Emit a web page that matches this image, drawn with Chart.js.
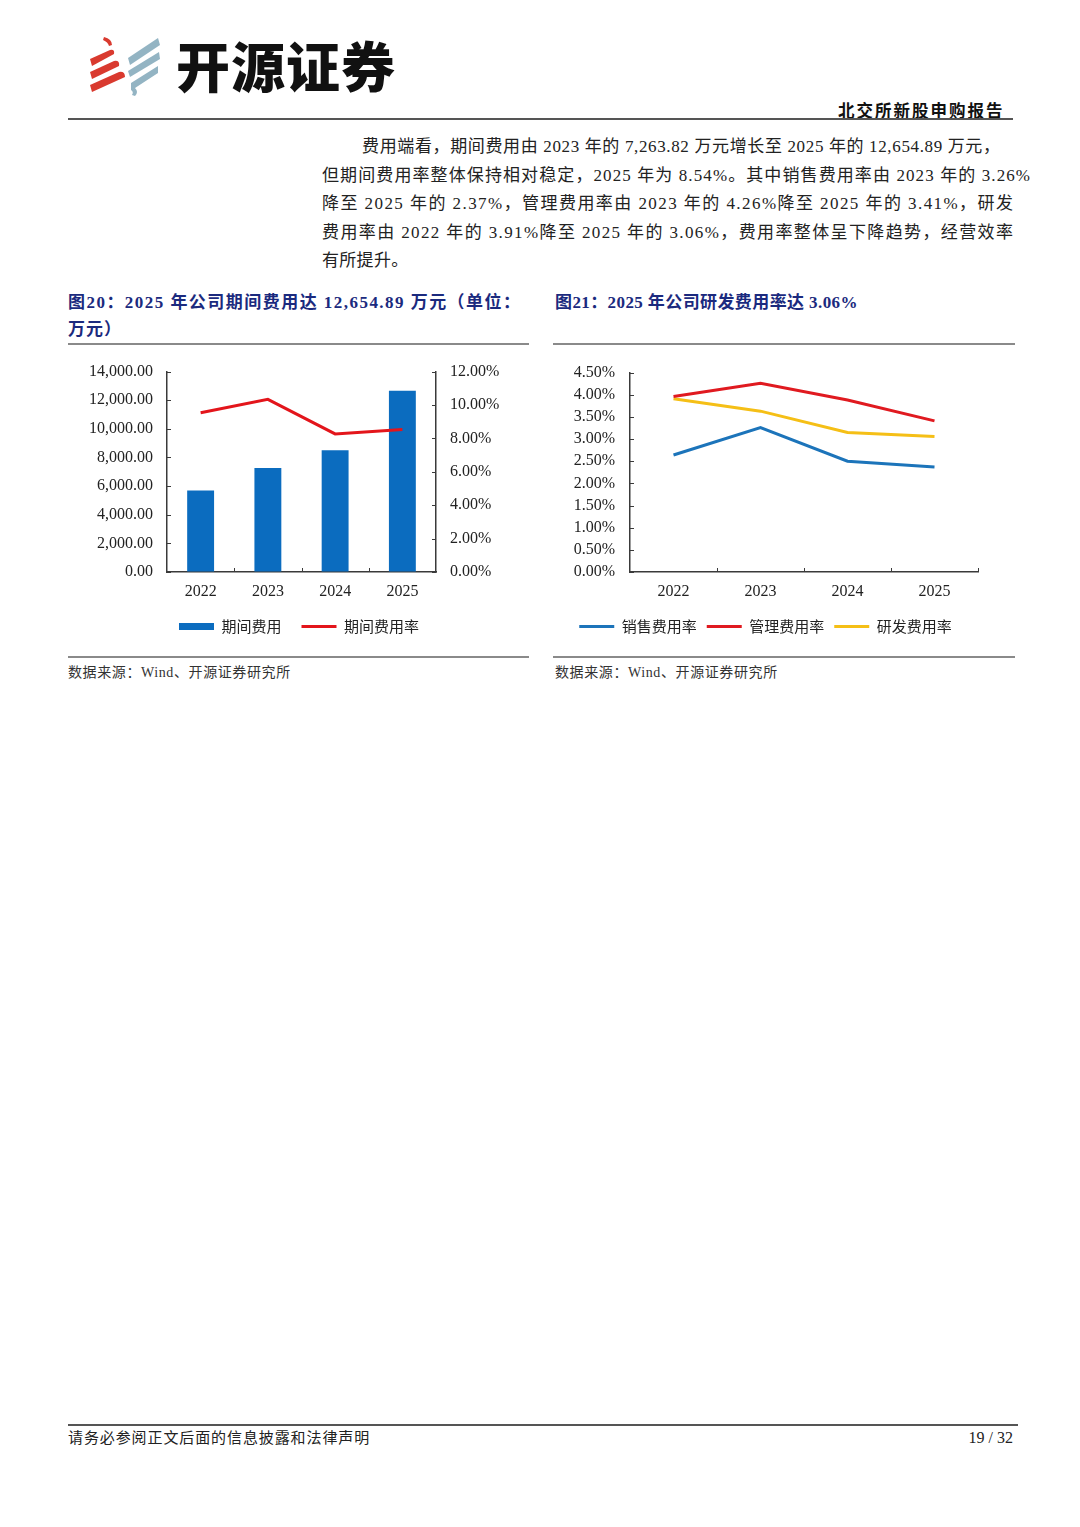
<!DOCTYPE html>
<html>
<head>
<meta charset="utf-8">
<script src="https://cdn.jsdelivr.net/npm/chart.js@4.4.1/dist/chart.umd.min.js"></script>
<style>
  html, body { margin: 0; padding: 0; background: #fff; }
  body { width: 1080px; height: 1527px; position: relative; overflow: hidden;
         font-family: "Liberation Serif", "Noto Sans CJK SC", serif; color: #222; }
  .abs { position: absolute; }
  .rule { position: absolute; height: 2px; background: #8a8a8a; }
  .para { position: absolute; left: 322px; font-size: 17px; line-height: 28.5px; white-space: nowrap; }
  .title { position: absolute; font-size: 17px; font-weight: bold; color: #1b2a7e; line-height: 27px; white-space: nowrap; }
  .src { position: absolute; font-size: 14px; color: #333; }
  .box { position: absolute; width: 462px; height: 296px; }
</style>
</head>
<body>

<!-- header -->
<svg class="abs" style="left:86px;top:32px" width="80" height="68" viewBox="86 32 80 68">
  <g fill="#d93a2f">
    <path d="M104 37 q8 2 8 8 l-3 1 q-1 -4 -6 -6 z"/>
    <path d="M90 59 L110 50 q5 -1 4 4 L92 66 z"/>
    <path d="M90 72 L114 61 q6 -1 5 5 L92 79 z"/>
    <path d="M90 85 L119 72 q6 -1 6 5 L92 92 z"/>
  </g>
  <g fill="#93b4c3">
    <path d="M128 58 L158 38 l2 7 L130 65 z"/>
    <path d="M128 71 L159 52 l1 7 L130 77 z"/>
    <path d="M131 83 L158 66 l0 7 L135 88 q4 4 0 8 l-3 -1 q2 -3 -1 -5 z"/>
  </g>
</svg>
<div class="abs" style="left:176px;top:30px;font-family:'Noto Sans CJK SC';font-weight:900;font-size:54px;line-height:70px;color:#111;letter-spacing:1px">开源证券</div>
<div class="abs" style="left:838px;top:98px;font-family:'Noto Sans CJK SC';font-weight:bold;font-size:16.5px;letter-spacing:2px;line-height:24px;color:#111">北交所新股申购报告</div>
<div class="rule" style="left:68px;top:118px;width:945px;background:#555"></div>

<!-- body text -->
<div class="para fit" data-w="638" style="top:133px;left:362px">费用端看，期间费用由 2023 年的 7,263.82 万元增长至 2025 年的 12,654.89 万元，</div>
<div class="para fit" data-w="708" style="top:161.5px">但期间费用率整体保持相对稳定，2025 年为 8.54%。其中销售费用率由 2023 年的 3.26%</div>
<div class="para fit" data-w="691" style="top:190px">降至 2025 年的 2.37%，管理费用率由 2023 年的 4.26%降至 2025 年的 3.41%，研发</div>
<div class="para fit" data-w="691" style="top:218.5px">费用率由 2022 年的 3.91%降至 2025 年的 3.06%，费用率整体呈下降趋势，经营效率</div>
<div class="para" style="top:247px;letter-spacing:0.3px">有所提升。</div>

<!-- chart titles -->
<div class="title fit" data-w="452" style="left:68px;top:289px">图20：2025 年公司期间费用达 12,654.89 万元（单位：</div>
<div class="title" style="left:68px;top:316px;letter-spacing:1px">万元）</div>
<div class="title" style="left:555px;top:289px;letter-spacing:0.4px">图21：2025 年公司研发费用率达 3.06%</div>
<div class="rule" style="left:68px;top:343px;width:461px"></div>
<div class="rule" style="left:553px;top:343px;width:462px"></div>

<div class="box" style="left:68px;top:348px"><canvas id="chart1"></canvas></div>
<div class="box" style="left:553px;top:348px"><canvas id="chart2"></canvas></div>

<div class="rule" style="left:68px;top:656px;width:461px"></div>
<div class="rule" style="left:553px;top:656px;width:462px"></div>
<div class="src" style="left:68px;top:661px;letter-spacing:0.6px">数据来源：Wind、开源证券研究所</div>
<div class="src" style="left:555px;top:661px;letter-spacing:0.6px">数据来源：Wind、开源证券研究所</div>

<!-- footer -->
<div class="rule" style="left:68px;top:1424px;width:950px;background:#555"></div>
<div class="abs" style="left:68px;top:1428px;font-size:15px;line-height:20px;letter-spacing:0.9px">请务必参阅正文后面的信息披露和法律声明</div>
<div class="abs" style="left:940px;top:1428px;width:73px;text-align:right;font-size:16px;line-height:20px">19 / 32</div>

<script>
// ---- data ----
const years = ['2022', '2023', '2024', '2025'];
const expenseNames = ['期间费用', '期间费用率'];
const periodExpense = [5690, 7263.82, 8500, 12654.89];      // 万元
const periodExpenseRate = [9.54, 10.34, 8.27, 8.54];        // %
const rateNames = ['销售费用率', '管理费用率', '研发费用率'];
const salesRate = [2.64, 3.26, 2.50, 2.37];
const adminRate = [3.96, 4.26, 3.88, 3.41];
const rdRate = [3.91, 3.63, 3.15, 3.06];

// spread the characters of each justified line over its box width
document.querySelectorAll('.fit').forEach(el => {
    const target = +el.dataset.w;
    const chars = [...el.textContent].length;
    const natural = el.getBoundingClientRect().width;
    el.style.letterSpacing = ((target - natural) / (chars - 1)) + 'px';
});

Chart.defaults.font.family = '"Liberation Serif", "Noto Sans CJK SC", serif';
Chart.defaults.font.size = 16;
Chart.defaults.color = '#222';
Chart.defaults.animation = false;

const axisColor = '#3a3a3a';

// short tick marks pointing into the plot, like the Excel original
const innerTicks = {
    id: 'innerTicks',
    afterDraw(chart, args, opts) {
        const ctx = chart.ctx;
        const len = 4;
        ctx.save();
        ctx.strokeStyle = axisColor;
        ctx.lineWidth = 1;
        ctx.beginPath();
        Object.values(chart.scales).forEach(s => {
            if (s.axis === 'y') {
                const left = s.position === 'left';
                const x = left ? s.right : s.left;
                s.ticks.forEach((t, i) => {
                    const y = Math.round(s.getPixelForTick(i)) + 0.5;
                    ctx.moveTo(x, y);
                    ctx.lineTo(x + (left ? len : -len), y);
                });
            } else {
                const n = s.ticks.length;
                const half = (s.getPixelForTick(1) - s.getPixelForTick(0)) / 2;
                const last = opts.lastX ? n : n - 1;
                for (let i = 1; i <= last; i++) {
                    const x = Math.round(s.getPixelForTick(i - 1) + half) + 0.5;
                    ctx.moveTo(x, s.top);
                    ctx.lineTo(x, s.top - len);
                }
            }
        });
        ctx.stroke();
        ctx.restore();
    }
};

function isLine(chart, ds) {
    return ds.type === 'line' || (!ds.type && chart.config.type === 'line');
}

function legendLabels(chart) {
    return chart.data.datasets.map((ds, i) => {
        const line = isLine(chart, ds);
        const color = line ? ds.borderColor : ds.backgroundColor;
        return {
            text: ds.label,
            fillStyle: color,
            strokeStyle: color,
            lineWidth: line ? 3 : 0,
            pointStyle: line ? 'line' : 'rect',
            fontColor: '#222',
            datasetIndex: i
        };
    });
}

function legendOpts(pad) {
    return {
        position: 'bottom',
        labels: {
            usePointStyle: true,
            pointStyleWidth: 35,
            boxWidth: 35,
            boxHeight: 7,
            padding: pad,
            font: { family: '"Noto Sans CJK SC"', size: 15 },
            generateLabels: legendLabels
        }
    };
}

const axisBorder = { display: true, color: axisColor, width: 1.5 };
const noGrid = { drawOnChartArea: false, drawTicks: false };

new Chart(document.getElementById('chart1'), {
    type: 'bar',
    data: {
        labels: years,
        datasets: [
            {
                label: expenseNames[0],
                data: periodExpense,
                backgroundColor: '#0b6cbf',
                barPercentage: 0.4,
                categoryPercentage: 1,
                yAxisID: 'y',
                order: 2
            },
            {
                type: 'line',
                label: expenseNames[1],
                data: periodExpenseRate,
                borderColor: '#e3151b',
                borderWidth: 3,
                pointRadius: 0,
                tension: 0,
                yAxisID: 'y1',
                order: 1
            }
        ]
    },
    options: {
        responsive: true,
        maintainAspectRatio: false,
        layout: { padding: { top: 0, bottom: 0, left: 0, right: 0 } },
        plugins: {
            legend: legendOpts(20),
            tooltip: { enabled: false },
            innerTicks: { lastX: false }
        },
        scales: {
            x: {
                grid: noGrid,
                border: axisBorder,
                ticks: { padding: 10 },
                afterFit: s => { s.height = 27; }
            },
            y: {
                position: 'left',
                min: 0, max: 14000,
                grid: noGrid,
                border: axisBorder,
                ticks: {
                    stepSize: 2000,
                    autoSkip: false,
                    padding: 14,
                    callback: v => v.toLocaleString('en-US', { minimumFractionDigits: 2, maximumFractionDigits: 2 })
                },
                afterFit: s => { s.width = 99; }
            },
            y1: {
                position: 'right',
                min: 0, max: 12,
                grid: noGrid,
                border: axisBorder,
                ticks: { stepSize: 2, autoSkip: false, padding: 14, callback: v => v.toFixed(2) + '%' },
                afterFit: s => { s.width = 94; }
            }
        }
    },
    plugins: [innerTicks]
});

new Chart(document.getElementById('chart2'), {
    type: 'line',
    data: {
        labels: years,
        datasets: [
            { label: rateNames[0], data: salesRate, borderColor: '#1c74ba' },
            { label: rateNames[1], data: adminRate, borderColor: '#e01a20' },
            { label: rateNames[2], data: rdRate, borderColor: '#f5bf16' }
        ].map(d => Object.assign(d, { borderWidth: 3, pointRadius: 0, tension: 0 }))
    },
    options: {
        responsive: true,
        maintainAspectRatio: false,
        layout: { padding: { top: 0, bottom: 0, left: 0, right: 37 } },
        plugins: {
            legend: legendOpts(10),
            tooltip: { enabled: false },
            innerTicks: { lastX: true }
        },
        scales: {
            x: {
                offset: true,
                grid: Object.assign({ offset: true }, noGrid),
                border: axisBorder,
                ticks: { padding: 10 },
                afterFit: s => { s.height = 37; }
            },
            y: {
                min: 0, max: 4.5,
                grid: noGrid,
                border: axisBorder,
                ticks: { stepSize: 0.5, autoSkip: false, padding: 15, callback: v => v.toFixed(2) + '%' },
                afterFit: s => { s.width = 77; }
            }
        }
    },
    plugins: [innerTicks]
});
</script>
</body>
</html>
